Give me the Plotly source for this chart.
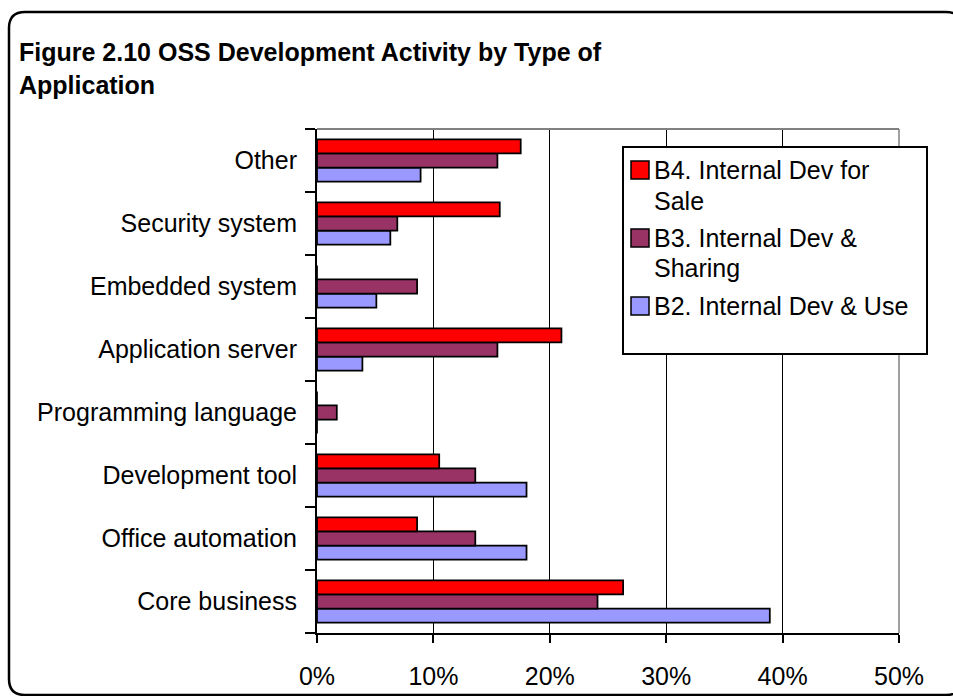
import plotly.graph_objects as go

# Application types, listed bottom-to-top as they appear on the category axis
categories = [
    "Core business",
    "Office automation",
    "Development tool",
    "Programming language",
    "Application server",
    "Embedded system",
    "Security system",
    "Other",
]

# Share of respondents (%) per development model
b2_use = [38.9, 18.0, 18.0, 0.0, 3.9, 5.1, 6.3, 8.9]
b3_sharing = [24.1, 13.6, 13.6, 1.7, 15.5, 8.6, 6.9, 15.5]
b4_sale = [26.3, 8.6, 10.5, 0.0, 21.0, 0.0, 15.7, 17.5]

series_names = [
    "B2. Internal Dev & Use",
    "B3. Internal Dev & Sharing",
    "B4. Internal Dev for Sale",
]
series_values = [b2_use, b3_sharing, b4_sale]
series_colors = ["#9999FF", "#993366", "#FF0000"]

x_ticks = [0, 10, 20, 30, 40, 50]

FONT = "Liberation Sans, Arial, Helvetica, sans-serif"

W, H = 953, 696
L, R, T, B = 317, 899, 129, 633  # plot-area edges in pixels


def px(x):
    return (x - L) / (R - L)


def py(y):
    return (B - y) / (B - T)


fig = go.Figure()
for name, vals, col in zip(series_names, series_values, series_colors):
    fig.add_trace(
        go.Bar(
            y=categories,
            x=vals,
            name=name,
            orientation="h",
            marker=dict(color=col, line=dict(color="black", width=1.75)),
            showlegend=False,
        )
    )

shapes = []

# Outer rounded frame of the exhibit
fx0, fy0, fx1, fy1, rad = 9, 12, 962, 695, 16
path = (
    f"M {px(fx0 + rad)} {py(fy0)} L {px(fx1 - rad)} {py(fy0)} "
    f"Q {px(fx1)} {py(fy0)} {px(fx1)} {py(fy0 + rad)} "
    f"L {px(fx1)} {py(fy1 - rad)} Q {px(fx1)} {py(fy1)} {px(fx1 - rad)} {py(fy1)} "
    f"L {px(fx0 + rad)} {py(fy1)} Q {px(fx0)} {py(fy1)} {px(fx0)} {py(fy1 - rad)} "
    f"L {px(fx0)} {py(fy0 + rad)} Q {px(fx0)} {py(fy0)} {px(fx0 + rad)} {py(fy0)} Z"
)
shapes.append(dict(type="path", xref="paper", yref="paper", path=path,
                   line=dict(color="black", width=2.5), layer="below"))

# Grey plot-area border along the top and right edges
shapes.append(dict(type="line", xref="paper", yref="paper", x0=0, x1=1, y0=1, y1=1,
                   line=dict(color="#808080", width=2), layer="above"))
shapes.append(dict(type="line", xref="paper", yref="paper", x0=1, x1=1, y0=0, y1=1,
                   line=dict(color="#808080", width=1.5), layer="above"))

# Legend box
shapes.append(dict(type="rect", xref="paper", yref="paper",
                   x0=px(623), x1=px(927), y0=py(147), y1=py(354),
                   line=dict(color="black", width=2), fillcolor="white", layer="above"))

annotations = []
# (text lines with their vertical centres, swatch colour, swatch top)
legend_items = [
    ([("B4. Internal Dev for", 170), ("Sale", 201)], "#FF0000", 161),
    ([("B3. Internal Dev &", 238), ("Sharing", 268)], "#993366", 229),
    ([("B2. Internal Dev & Use", 306)], "#9999FF", 297),
]
for lines, col, top in legend_items:
    shapes.append(dict(type="rect", xref="paper", yref="paper",
                       x0=px(631), x1=px(649), y0=py(top), y1=py(top + 18),
                       line=dict(color="black", width=1.5), fillcolor=col, layer="above"))
    for text, yc in lines:
        annotations.append(dict(xref="paper", yref="paper", x=px(652), y=py(yc),
                                xanchor="left", yanchor="middle", align="left",
                                showarrow=False, text=text,
                                font=dict(family=FONT, size=25, color="black")))

# Exhibit title
annotations.append(dict(xref="paper", yref="paper", x=px(17), y=py(36),
                        xanchor="left", yanchor="top", align="left", showarrow=False,
                        text="<b>Figure 2.10 OSS Development Activity by Type of<br>Application</b>",
                        font=dict(family=FONT, size=25, color="black")))

fig.update_layout(
    width=W,
    height=H,
    margin=dict(l=L, r=W - R, t=T, b=H - B, pad=0, autoexpand=False),
    paper_bgcolor="white",
    plot_bgcolor="white",
    barmode="group",
    bargap=0.33,
    bargroupgap=0,
    font=dict(family=FONT, size=25, color="black"),
    shapes=shapes,
    annotations=annotations,
    xaxis=dict(
        range=[0, 50],
        tickvals=x_ticks,
        ticktext=[f"{v}%" for v in x_ticks],
        showgrid=True,
        gridcolor="black",
        gridwidth=1,
        zeroline=False,
        showline=True,
        linecolor="black",
        linewidth=2,
        ticks="outside",
        ticklen=8,
        tickwidth=2,
        tickcolor="black",
        ticklabelstandoff=12,
        automargin=False,
        tickfont=dict(family=FONT, size=25, color="black"),
        fixedrange=True,
    ),
    yaxis=dict(
        categoryorder="array",
        categoryarray=categories,
        showgrid=False,
        zeroline=False,
        showline=True,
        linecolor="black",
        linewidth=2,
        ticks="outside",
        tickson="boundaries",
        ticklen=10,
        tickwidth=2,
        tickcolor="black",
        ticklabelstandoff=13,
        automargin=False,
        tickfont=dict(family=FONT, size=25, color="black"),
        fixedrange=True,
    ),
)

fig.write_html("out.html")
